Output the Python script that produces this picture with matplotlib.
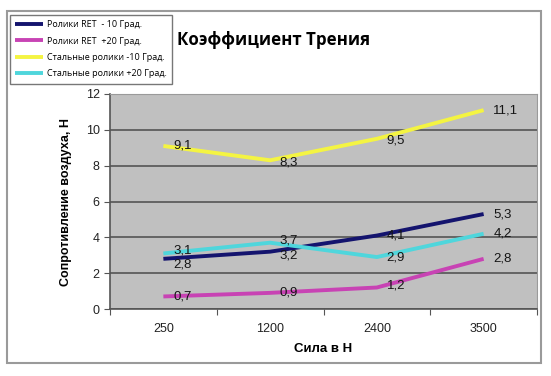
import matplotlib.pyplot as plt
from matplotlib.patches import Rectangle

categories = ['250', '1200', '2400', '3500']
ret_minus10 = [2.8, 3.2, 4.1, 5.3]
ret_plus20 = [0.7, 0.9, 1.2, 2.8]
steel_minus10 = [9.1, 8.3, 9.5, 11.1]
steel_plus20 = [3.1, 3.7, 2.9, 4.2]

series = [
    ('Ролики RET  - 10 Град.', ret_minus10, '#14146e'),
    ('Ролики RET  +20 Град.', ret_plus20, '#c843b4'),
    ('Стальные ролики -10 Град.', steel_minus10, '#f4f442'),
    ('Стальные ролики +20 Град.', steel_plus20, '#4fd6dc'),
]

# small manual nudges so labels sit like in the original
label_dy = {
    ('Ролики RET  - 10 Град.', 0): -0.3,
    ('Стальные ролики +20 Град.', 0): 0.15,
    ('Стальные ролики +20 Град.', 1): 0.15,
    ('Ролики RET  - 10 Град.', 1): -0.2,
    ('Стальные ролики -10 Град.', 1): -0.1,
    ('Стальные ролики -10 Град.', 2): -0.1,
    ('Ролики RET  +20 Град.', 2): 0.1,
}

fig = plt.figure(figsize=(5.51, 3.76), dpi=100)
fig.patches.append(Rectangle((7 / 551, 1 - 363 / 376), 534 / 551, 352 / 376,
                             transform=fig.transFigure, fill=False,
                             edgecolor='#9a9a9a', linewidth=1.5))

ax = fig.add_axes([110 / 551, 1 - 309 / 376, 427 / 551, 215 / 376])
ax.set_facecolor('#c0c0c0')

x = list(range(len(categories)))
handles = []
for name, vals, color in series:
    h, = ax.plot(x, vals, color=color, linewidth=2.8, label=name,
                 solid_capstyle='butt')
    handles.append(h)
    for i, v in enumerate(vals):
        dy = label_dy.get((name, i), 0)
        ax.annotate(f'{v}'.replace('.', ','), (i, v + dy),
                    xytext=(7, 0), textcoords='offset points',
                    ha='left', va='center', fontsize=9.5,
                    family='Liberation Sans', color='#151515')

ax.set_xlim(-0.5, len(categories) - 0.5)
ax.set_ylim(0, 12)
ax.set_yticks(range(0, 13, 2))
ax.set_xticks([i - 0.5 for i in range(len(categories) + 1)])
ax.set_xticklabels([])
ax.set_xticks(x, minor=True)
ax.set_xticklabels(categories, minor=True)
ax.tick_params(axis='x', which='minor', length=0, pad=10)
ax.tick_params(axis='x', which='major', length=4, color='#555555')
ax.tick_params(axis='y', length=4, color='#555555')
for lab in ax.get_xticklabels(minor=True) + ax.get_yticklabels():
    lab.set_family('Liberation Sans')
    lab.set_fontsize(9)
    lab.set_color('#222222')

ax.grid(axis='y', color='#555555', linewidth=1.2)
ax.set_axisbelow(True)
for side in ['top', 'right']:
    ax.spines[side].set_color('#9a9a9a')
for side in ['left', 'bottom']:
    ax.spines[side].set_color('#555555')
    ax.spines[side].set_linewidth(1.2)

ax.set_xlabel('Сила в Н', fontsize=9.5, fontweight='bold',
              family='Liberation Sans', labelpad=6)
ax.set_ylabel('Сопротивление воздуха, Н', fontsize=9, fontweight='bold',
              family='Liberation Sans', labelpad=10)

fig.text(177 / 551, 1 - 40 / 376, 'Коэффициент Трения', fontsize=12.2,
         fontweight='bold', family='Open Sans', va='center', ha='left')

leg = fig.legend(handles=handles, loc='upper left',
                 bbox_to_anchor=(10 / 551, 1 - 15 / 376),
                 prop={'family': 'Open Sans', 'size': 6.5},
                 handlelength=3.0, handletextpad=0.5, labelspacing=0.8,
                 borderpad=0.6, borderaxespad=0, fancybox=False,
                 framealpha=1, edgecolor='#777777')
leg.get_frame().set_linewidth(1.0)

fig.savefig('out.png', dpi=100)
